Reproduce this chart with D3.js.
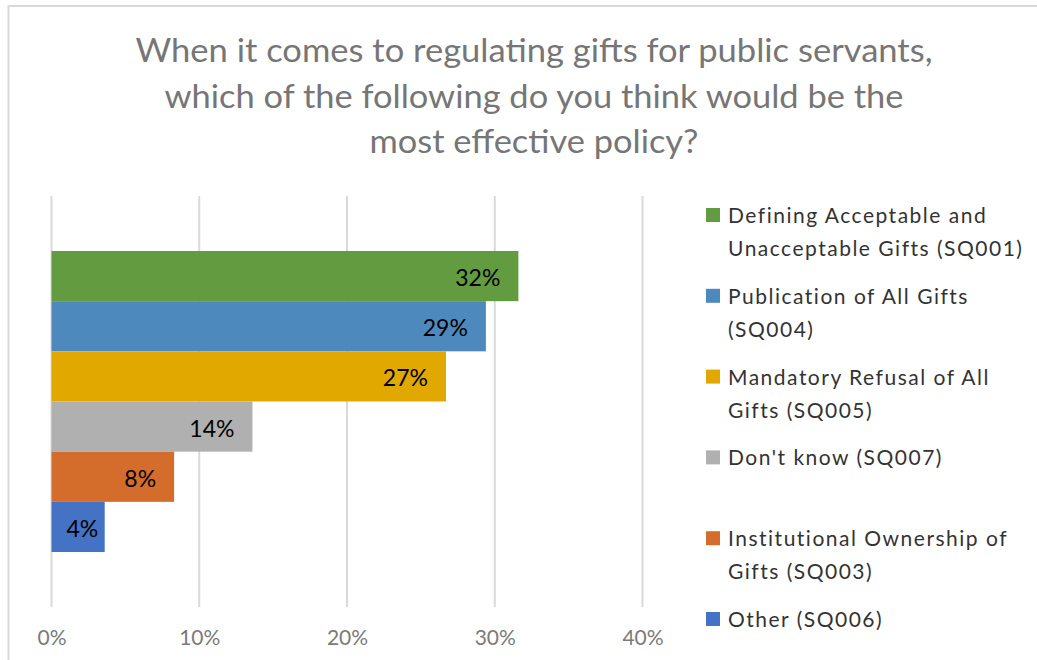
<!DOCTYPE html>
<html>
<head>
<meta charset="utf-8">
<script src="https://cdn.jsdelivr.net/npm/d3@7"></script>
<style>
  html, body { margin: 0; padding: 0; background: #fff; }
  svg { display: block; }
  text { font-family: Lato, "Liberation Sans", sans-serif; }
</style>
</head>
<body>
<svg id="chart" width="1037" height="660"></svg>
<script>
// Survey responses: share of respondents choosing each policy
const categories = [
  "Defining Acceptable and Unacceptable Gifts (SQ001)",
  "Publication of All Gifts (SQ004)",
  "Mandatory Refusal of All Gifts (SQ005)",
  "Don't know (SQ007)",
  "Institutional Ownership of Gifts (SQ003)",
  "Other (SQ006)"
];
const values = [0.316, 0.294, 0.267, 0.136, 0.083, 0.036];
const colors = ["#639B41", "#4E89BD", "#E1A800", "#B0B0B0", "#D46D2C", "#4472C4"];
// Legend text, wrapped as in the legend box
const legendLines = [
  ["Defining Acceptable and", "Unacceptable Gifts (SQ001)"],
  ["Publication of All Gifts", "(SQ004)"],
  ["Mandatory Refusal of All", "Gifts (SQ005)"],
  ["Don't know (SQ007)"],
  ["Institutional Ownership of", "Gifts (SQ003)"],
  ["Other (SQ006)"]
];
const tickValues = [0, 0.1, 0.2, 0.3, 0.4];
const titleLines = [
  "When it comes to regulating gifts for public servants,",
  "which of the following do you think would be the",
  "most effective policy?"
];

const svg = d3.select("#chart");
const fmt = d3.format(".0%");

// chart frame
svg.append("rect")
  .attr("x", 8.5).attr("y", 6)
  .attr("width", 1100).attr("height", 700)
  .attr("fill", "#fff")
  .attr("stroke", "#D9D9D9").attr("stroke-width", 2);

// title
const titleWidths = [797, 739, 329];
const title = svg.append("g");
titleLines.forEach((t, i) => {
  title.append("text")
    .attr("x", 534).attr("y", 62 + i * 45.5)
    .attr("text-anchor", "middle")
    .attr("font-size", 32)
    .attr("fill", "#767676")
    .attr("textLength", titleWidths[i])
    .attr("lengthAdjust", "spacingAndGlyphs")
    .text(t);
});

// scales
const x = d3.scaleLinear().domain([0, 0.4]).range([51.5, 642.5]);
const y = d3.scaleBand().domain(categories).range([196, 607])
  .paddingInner(0).paddingOuter(1.096);

// vertical gridlines
svg.append("g").selectAll("line")
  .data(tickValues).join("line")
  .attr("x1", d => x(d)).attr("x2", d => x(d))
  .attr("y1", 196).attr("y2", 607)
  .attr("stroke", "#D9D9D9").attr("stroke-width", 2);

// x axis labels
const xAxis = d3.axisBottom(x).tickValues(tickValues).tickFormat(fmt).tickSize(0).tickPadding(0);
const ax = svg.append("g").attr("transform", "translate(0,629)").call(xAxis);
ax.select(".domain").remove();
ax.selectAll("text")
  .attr("dy", null).attr("y", 16)
  .attr("font-family", "Lato, sans-serif")
  .attr("font-size", 21)
  .attr("fill", "#7A7A7A");

// bars
svg.append("g").selectAll("rect")
  .data(values).join("rect")
  .attr("x", x(0))
  .attr("y", (d, i) => y(categories[i]))
  .attr("width", d => x(d) - x(0))
  .attr("height", y.bandwidth())
  .attr("fill", (d, i) => colors[i]);

// data labels at the inside end; short bars keep the label clear of the axis
svg.append("g").selectAll("text")
  .data(values).join("text")
  .attr("y", (d, i) => y(categories[i]) + y.bandwidth() / 2 + 1)
  .attr("text-anchor", "end")
  .attr("dominant-baseline", "central")
  .attr("font-size", 23)
  .attr("fill", "#000")
  .text(d => fmt(d))
  .attr("x", function(d) {
    const w = this.getComputedTextLength();
    return Math.max(x(d) - 18, x(0) + 15 + w);
  });

// legend
const legend = svg.append("g");
legendLines.forEach((lines, i) => {
  const by = 223 + i * 80.8;
  legend.append("rect")
    .attr("x", 706).attr("y", by - 15)
    .attr("width", 14).attr("height", 14)
    .attr("fill", colors[i]);
  lines.forEach((ln, j) => {
    legend.append("text")
      .attr("x", 728).attr("y", by + j * 33)
      .attr("font-size", 21)
      .attr("letter-spacing", 1.5)
      .attr("fill", "#333")
      .text(ln);
  });
});
</script>
</body>
</html>
